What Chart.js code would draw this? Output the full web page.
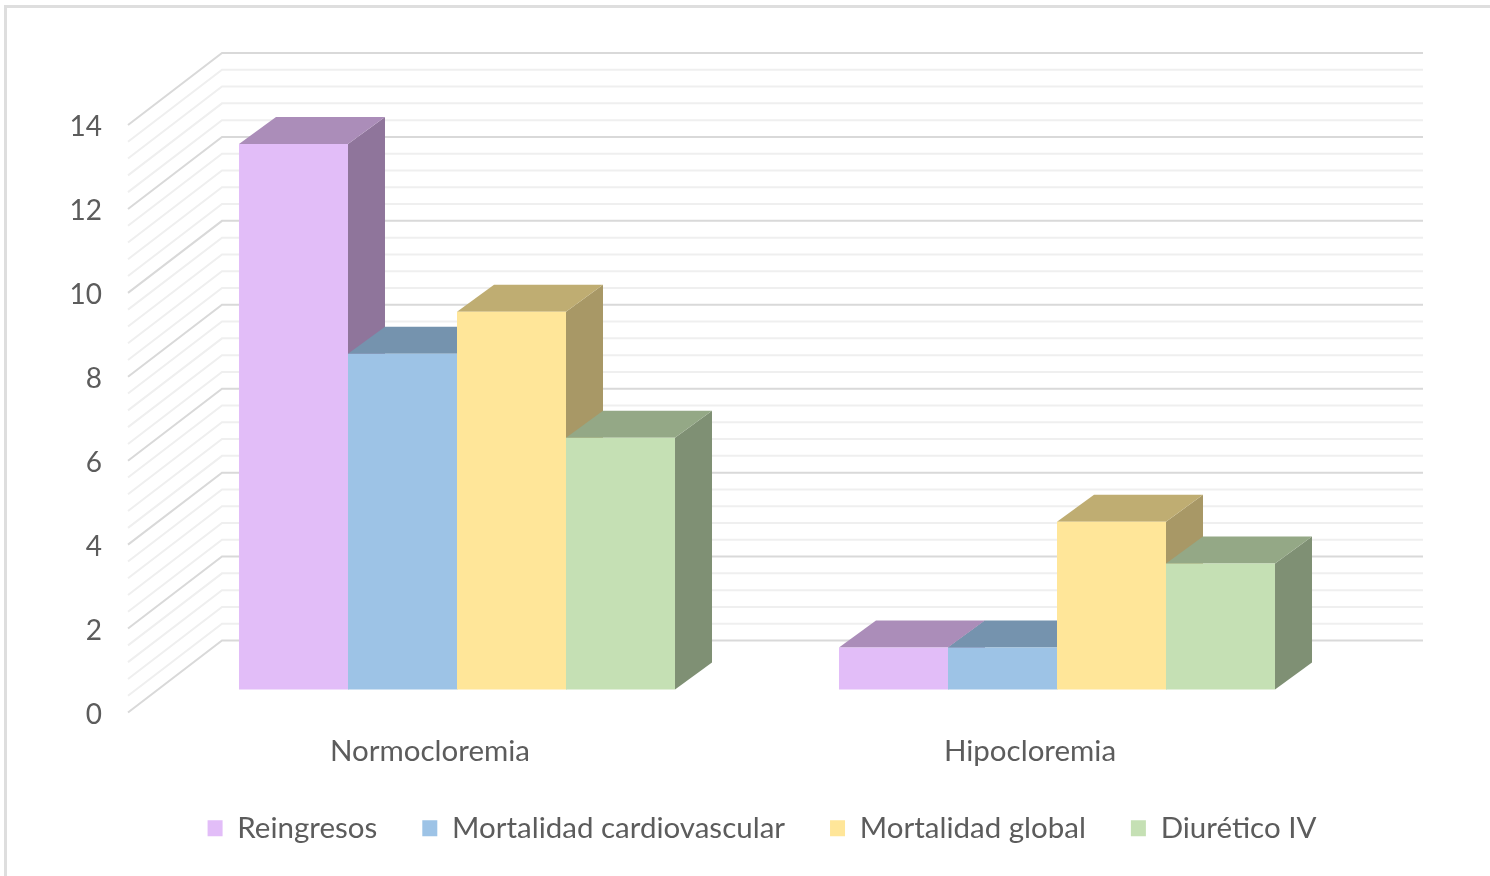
<!DOCTYPE html>
<html>
<head>
<meta charset="utf-8">
<title>Cloremia</title>
<script src="https://cdn.jsdelivr.net/npm/chart.js@4"></script>
<style>
  html, body { margin: 0; padding: 0; background: #fff; overflow: hidden; width: 1490px; height: 876px; }
  #frame { position: absolute; left: 4px; top: 5px; right: 0; bottom: 0; border-left: 3px solid #dedede; border-top: 3px solid #dedede; filter: blur(0.6px); }
  canvas { position: absolute; left: 0; top: 0; filter: blur(0.6px); }
</style>
</head>
<body>
<div id="frame"></div>
<canvas id="chart" width="1490" height="876"></canvas>
<script>
const categories = ['Normocloremia', 'Hipocloremia']
const reingresos = [13, 1]
const mortalidadCardiovascular = [8, 1]
const mortalidadGlobal = [9, 4]
const diureticoIV = [6, 3]

const seriesNames = ['Reingresos', 'Mortalidad cardiovascular', 'Mortalidad global', 'Diurético IV']
const seriesColors = ['#e2bdf8', '#9dc3e6', '#ffe699', '#c5e0b4']
const topColors = ['#ab8db9', '#7593ae', '#bfad72', '#94a886']
const sideColors = ['#8f759b', '#64809a', '#a89866', '#7f9074']

const textColor = '#5c5c5c'
const fontName = 'Lato, sans-serif'

// 3d look: bar depth, wall offset from the front plane, where the wall ends
const barDepth = { x: 37, y: -27 }
const wallOffset = { x: 94, y: -72 }
const wallLeft = 128
const wallRight = 1423
const minorStep = 0.4

let wallPlugin = {
    id: 'wall',
    beforeDatasetsDraw(chart) {
        let ctx = chart.ctx
        let y = chart.scales.y
        ctx.save()
        // walk the axis in minor steps, every 5th line is a major one
        for (let i = 0; i <= 35; i++) {
            let value = i * minorStep
            let py = y.getPixelForValue(value)
            ctx.beginPath()
            ctx.moveTo(wallLeft, py)
            ctx.lineTo(wallLeft + wallOffset.x, py + wallOffset.y)
            ctx.lineTo(wallRight, py + wallOffset.y)
            ctx.strokeStyle = i % 5 === 0 ? '#d9d9d9' : '#efefef'
            ctx.lineWidth = 2
            ctx.stroke()
        }
        ctx.restore()

        // sides and tops of the bars, left to right so later ones cover earlier ones
        for (let j = 0; j < categories.length; j++) {
            for (let d = 0; d < chart.data.datasets.length; d++) {
                let bar = chart.getDatasetMeta(d).data[j]
                let left = bar.x - bar.width / 2
                let right = bar.x + bar.width / 2
                face(ctx, sideColors[d], [
                    [right, bar.y], [right + barDepth.x, bar.y + barDepth.y],
                    [right + barDepth.x, bar.base + barDepth.y], [right, bar.base]
                ])
                face(ctx, topColors[d], [
                    [left, bar.y], [left + barDepth.x, bar.y + barDepth.y],
                    [right + barDepth.x, bar.y + barDepth.y], [right, bar.y]
                ])
            }
        }
    }
}

let face = function(ctx, color, points) {
    ctx.beginPath()
    points.forEach((p, i) => i === 0 ? ctx.moveTo(p[0], p[1]) : ctx.lineTo(p[0], p[1]))
    ctx.closePath()
    ctx.fillStyle = color
    ctx.fill()
}

let seriesValues = [reingresos, mortalidadCardiovascular, mortalidadGlobal, diureticoIV]

let chart = new Chart(document.getElementById('chart'), {
    type: 'bar',
    data: {
        labels: categories,
        datasets: seriesNames.map((name, i) => ({
            label: name,
            data: seriesValues[i],
            backgroundColor: seriesColors[i],
            borderWidth: 0,
            yAxisID: 'yBars',
            categoryPercentage: 0.7267,
            barPercentage: 1
        }))
    },
    plugins: [wallPlugin],
    options: {
        responsive: false,
        animation: false,
        layout: { padding: { top: 125, right: 0, left: 34, bottom: 23 } },
        plugins: {
            tooltip: { enabled: false },
            legend: {
                position: 'bottom',
                onClick: null,
                labels: {
                    boxWidth: 15,
                    boxHeight: 16,
                    padding: 45,
                    color: textColor,
                    font: { family: fontName, size: 29.5 }
                }
            }
        },
        scales: {
            x: {
                grid: { display: false },
                border: { display: false },
                afterFit: scale => { scale.height = 56 },
                ticks: {
                    color: textColor,
                    padding: 13,
                    labelOffset: -27,
                    font: { family: fontName, size: 29.5 }
                }
            },
            // tick labels sit on the front plane
            y: {
                min: 0,
                max: 14,
                grid: { display: false },
                border: { display: false },
                afterFit: scale => { scale.width = 123 },
                ticks: {
                    stepSize: 2,
                    color: textColor,
                    padding: 47,
                    labelOffset: 2,
                    font: { family: fontName, size: 28 }
                }
            },
            // the bars stand a little behind the front plane, so their zero is higher up.
            // on the right it also keeps the space the walls need
            yBars: {
                position: 'right',
                min: -0.5485,
                max: 13.4515,
                grid: { display: false },
                border: { display: false },
                ticks: { display: false },
                afterFit: scale => { scale.width = 133 }
            }
        }
    }
})
</script>
</body>
</html>
